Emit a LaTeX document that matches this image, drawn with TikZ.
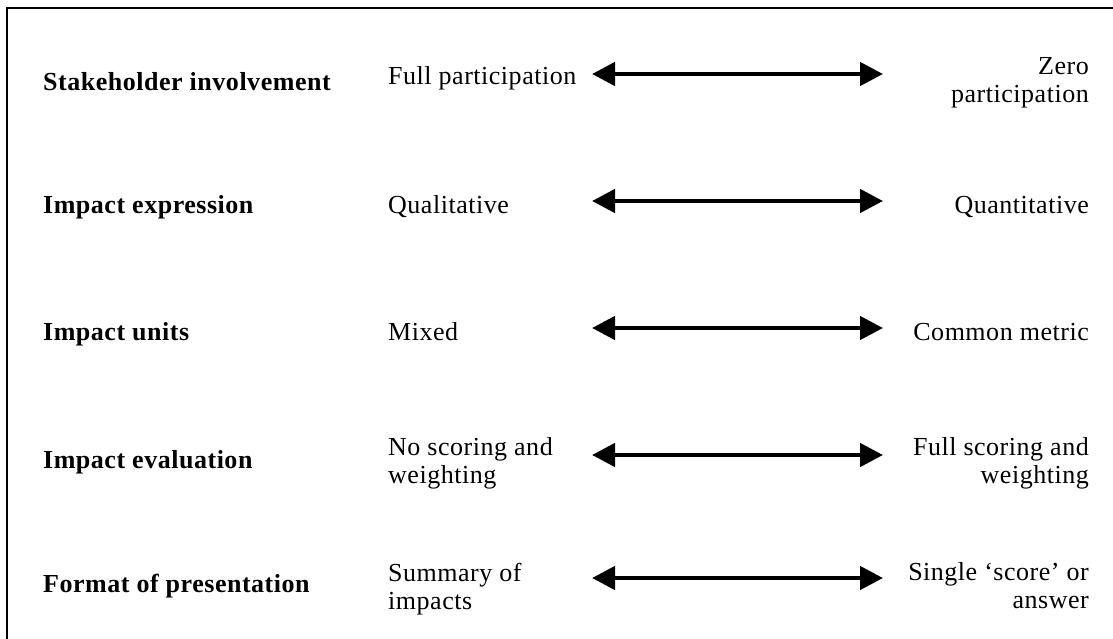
\documentclass[tikz,border=0pt]{standalone}
\usepackage{fontspec}
\setmainfont{Liberation Serif}[LetterSpace=2]
\usetikzlibrary{arrows.meta}
\begin{document}
\begin{tikzpicture}[x=1pt,y=-1pt,
  frame/.style={line width=2pt, line cap=rect},
  criterion/.style={inner sep=0pt, anchor=base west,
    font=\fontsize{26}{28}\selectfont\bfseries},
  pole/.style={inner sep=0pt, font=\fontsize{26}{28}\selectfont},
  leftpole/.style={pole, anchor=base west, align=left},
  rightpole/.style={pole, anchor=base east, align=right},
  scale arrow/.style={line width=4.5pt,
    {Triangle[length=23pt,width=23pt]}-{Triangle[length=23pt,width=23pt]}}
]
\useasboundingbox (0,0) rectangle (1113,639);

% open frame: top and left edges
\draw[frame] (7,639) -- (7,8) -- (1113,8);

% criteria
\node[criterion] (c1) at (43,91)  {Stakeholder involvement};
\node[criterion] (c2) at (43,214) {Impact expression};
\node[criterion] (c3) at (43,340) {Impact units};
\node[criterion] (c4) at (43,468) {Impact evaluation};
\node[criterion] (c5) at (43,592) {Format of presentation};

% left-hand poles (base anchor sits on the last line)
\node[leftpole] (l1) at (388,85)  {Full participation};
\node[leftpole] (l2) at (388,214) {Qualitative};
\node[leftpole] (l3) at (388,340) {Mixed};
\node[leftpole] (l4) at (388,483) {No scoring and\\weighting};
\node[leftpole] (l5) at (388,609) {Summary of\\impacts};

% right-hand poles
\node[rightpole] (r1) at (1089,103) {Zero\\participation};
\node[rightpole] (r2) at (1089,214) {Quantitative};
\node[rightpole] (r3) at (1089,340) {Common metric};
\node[rightpole] (r4) at (1089,483) {Full scoring and\\weighting};
\node[rightpole] (r5) at (1089,608) {Single ‘score’ or\\answer};

% double-headed scale arrows
\foreach \i/\y in {1/74,2/201,3/328,4/455,5/578}{
  \coordinate (a\i w) at (592,\y);
  \coordinate (a\i e) at (883,\y);
  \draw[scale arrow] (a\i w) -- (a\i e);
}
\end{tikzpicture}
\end{document}
